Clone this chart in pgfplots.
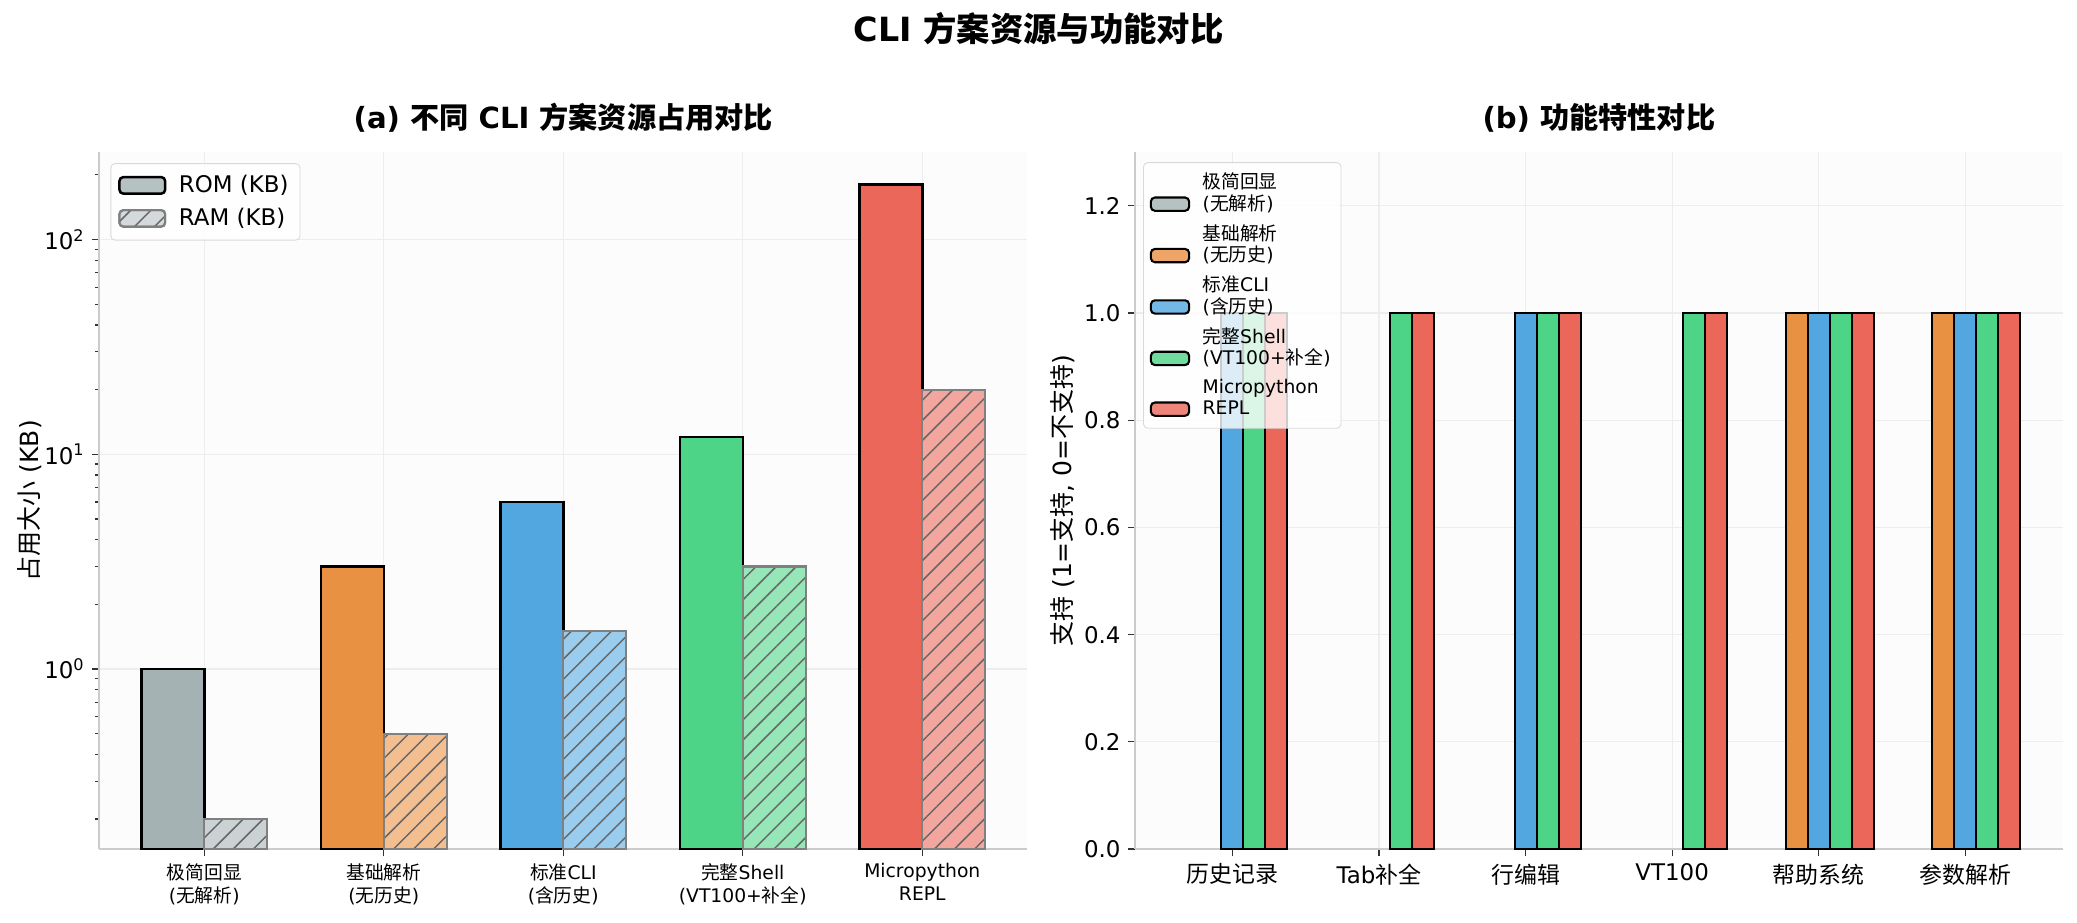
\documentclass[border=0pt]{standalone}
\usepackage{pgfplots}
\pgfplotsset{compat=1.18}
\usetikzlibrary{patterns.meta}
\usepackage{fontspec}
\setmainfont{DejaVu Sans}
\newfontfamily\cjk{Noto Sans CJK SC}
\newcommand\zh[1]{{\cjk #1}}
\definecolor{cg}{HTML}{A5B2B3}
\definecolor{co}{HTML}{E99143}
\definecolor{cb}{HTML}{52A7E0}
\definecolor{cgr}{HTML}{4DD486}
\definecolor{cr}{HTML}{EB6759}
\definecolor{lg}{HTML}{CAD2D3}
\definecolor{lo}{HTML}{F3BF91}
\definecolor{lb}{HTML}{9ACCED}
\definecolor{lgr}{HTML}{97E6B8}
\definecolor{lr}{HTML}{F3A69E}
\definecolor{spine}{HTML}{CCCCCC}
\pgfplotsset{
  basestyle/.style={
    scale only axis,
    axis x line*=bottom, axis y line*=left,
    axis line style={-, draw=spine, line width=0.9pt},
    tick align=outside,
    major tick length=3.5pt, minor tick length=2pt,
    tick style={black!80, line width=0.6pt},
    grid=major, grid style={black!7, line width=0.6pt},
    axis background/.style={fill=black!1},
    tick label style={font=\fontsize{11}{13}\selectfont, black},
  },
  romlegend/.style={legend image code/.code={\draw[##1] (0pt,-4pt) rectangle (22pt,4pt);}},
  featlegend/.style={legend image code/.code={\draw[##1] (0pt,-8.4pt) rectangle (18.4pt,-2pt);}},
  rom/.style={ybar, bar width=0.35, bar shift=-0.175, draw=black, line width=1.2pt, fill=#1, romlegend},
  ram/.style={ybar, bar width=0.35, bar shift=0.175, draw=black!50, line width=1pt, fill=#1,
    postaction={pattern={Lines[angle=45,distance=6.8pt,line width=0.7pt]}, pattern color=black!60}, romlegend},
  feat/.style 2 args={ybar, bar width=0.15, bar shift=#1, draw=black, line width=1pt, fill=#2, featlegend},
}
\begin{document}
\begin{tikzpicture}
\useasboundingbox (0,0) rectangle (996.96pt,442.56pt);
\node[font=\bfseries\fontsize{16}{19}\selectfont] at (498.5pt,428.6pt) {CLI \zh{方案资源与功能对比}};
\begin{axis}[
  basestyle,
  at={(47.7pt,35pt)}, anchor=south west,
  width=445.4pt, height=334.5pt,
  xmin=-0.585, xmax=4.585,
  ymode=log, log origin y=infty,
  ymin=0.145, ymax=255,
  xtick={0,1,2,3,4},
  xticklabels={{\zh{极简回显}\\(\zh{无解析})},{\zh{基础解析}\\(\zh{无历史})},{\zh{标准}CLI\\(\zh{含历史})},{\zh{完整}Shell\\(VT100+\zh{补全})},{Micropython\\REPL}},
  xticklabel style={font=\fontsize{9}{11}\selectfont, align=center},
  ytick={1,10,100},
  yticklabels={10\textsuperscript{0},10\textsuperscript{1},10\textsuperscript{2}},
  minor ytick={0.2,0.3,0.4,0.5,0.6,0.7,0.8,0.9,2,3,4,5,6,7,8,9,20,30,40,50,60,70,80,90,200},
  ylabel={\zh{占用大小} (KB)},
  ylabel style={at={(axis description cs:-0.0755,0.5)}, anchor=center, font=\fontsize{12}{14}\selectfont},
  title={(a) \zh{不同} CLI \zh{方案资源占用对比}},
  title style={at={(axis description cs:0.5,1)}, anchor=center, yshift=10.6pt, font=\bfseries\fontsize{14}{17}\selectfont},
  legend style={at={(axis description cs:0,1)}, anchor=north west, xshift=5.3pt, yshift=-5.3pt,
    draw=black!15, rounded corners=2pt, fill=white, fill opacity=0.8, text opacity=1,
    font=\fontsize{11}{13}\selectfont, row sep=2pt, column sep=4pt, inner sep=3.5pt},
  legend cell align=left,
]
\addplot[rom=cg] coordinates {(0,1)};
\addplot[ram=lg] coordinates {(0,0.2)};
\legend{ROM (KB),RAM (KB)}
\addplot[rom=co, forget plot] coordinates {(1,3)};
\addplot[ram=lo, forget plot] coordinates {(1,0.5)};
\addplot[rom=cb, forget plot] coordinates {(2,6)};
\addplot[ram=lb, forget plot] coordinates {(2,1.5)};
\addplot[rom=cgr, forget plot] coordinates {(3,12)};
\addplot[ram=lgr, forget plot] coordinates {(3,3)};
\addplot[rom=cr, forget plot] coordinates {(4,180)};
\addplot[ram=lr, forget plot] coordinates {(4,20)};
\end{axis}
\begin{axis}[
  basestyle,
  at={(544.9pt,35pt)}, anchor=south west,
  width=445.1pt, height=334.5pt,
  xmin=-0.6625, xmax=5.6625,
  ymin=0, ymax=1.3,
  xtick={0,1,2,3,4,5},
  xticklabels={{\zh{历史记录}},{Tab\zh{补全}},{\zh{行编辑}},{VT100},{\zh{帮助系统}},{\zh{参数解析}}},
  ytick={0,0.2,0.4,0.6,0.8,1.0,1.2},
  /pgf/number format/.cd, fixed, fixed zerofill, precision=1, assume math mode=true, /pgfplots/.cd,
  ylabel={\zh{支持} (1=\zh{支持}, 0=\zh{不支持})},
  ylabel style={at={(axis description cs:-0.0787,0.5)}, anchor=center, font=\fontsize{12}{14}\selectfont},
  title={(b) \zh{功能特性对比}},
  title style={at={(axis description cs:0.5,1)}, anchor=center, yshift=10.6pt, font=\bfseries\fontsize{14}{17}\selectfont},
  legend style={at={(axis description cs:0,1)}, anchor=north west, xshift=3.8pt, yshift=-4.8pt,
    draw=black!15, rounded corners=2pt, fill=white, fill opacity=0.8, text opacity=1,
    font=\fontsize{9}{10.4}\selectfont, row sep=1.2pt, column sep=4pt, inner sep=3pt, cells={align=left}},
  legend cell align=left,
  unbounded coords=discard,
  y filter/.expression={y==0 ? nan : y},
]
\addlegendimage{feat={-0.3}{cg}}
\addlegendentry{\zh{极简回显}\\(\zh{无解析})}
\addplot[feat={-0.3}{cg}, forget plot] coordinates {(0,0) (1,0) (2,0) (3,0) (4,0) (5,0)};
\addplot[feat={-0.15}{co}] coordinates {(0,0) (1,0) (2,0) (3,0) (4,1) (5,1)};
\addlegendentry{\zh{基础解析}\\(\zh{无历史})}
\addplot[feat={0}{cb}] coordinates {(0,1) (1,0) (2,1) (3,0) (4,1) (5,1)};
\addlegendentry{\zh{标准}CLI\\(\zh{含历史})}
\addplot[feat={0.15}{cgr}] coordinates {(0,1) (1,1) (2,1) (3,1) (4,1) (5,1)};
\addlegendentry{\zh{完整}Shell\\(VT100+\zh{补全})}
\addplot[feat={0.3}{cr}] coordinates {(0,1) (1,1) (2,1) (3,1) (4,1) (5,1)};
\addlegendentry{Micropython\\REPL}
\end{axis}
\end{tikzpicture}
\end{document}
